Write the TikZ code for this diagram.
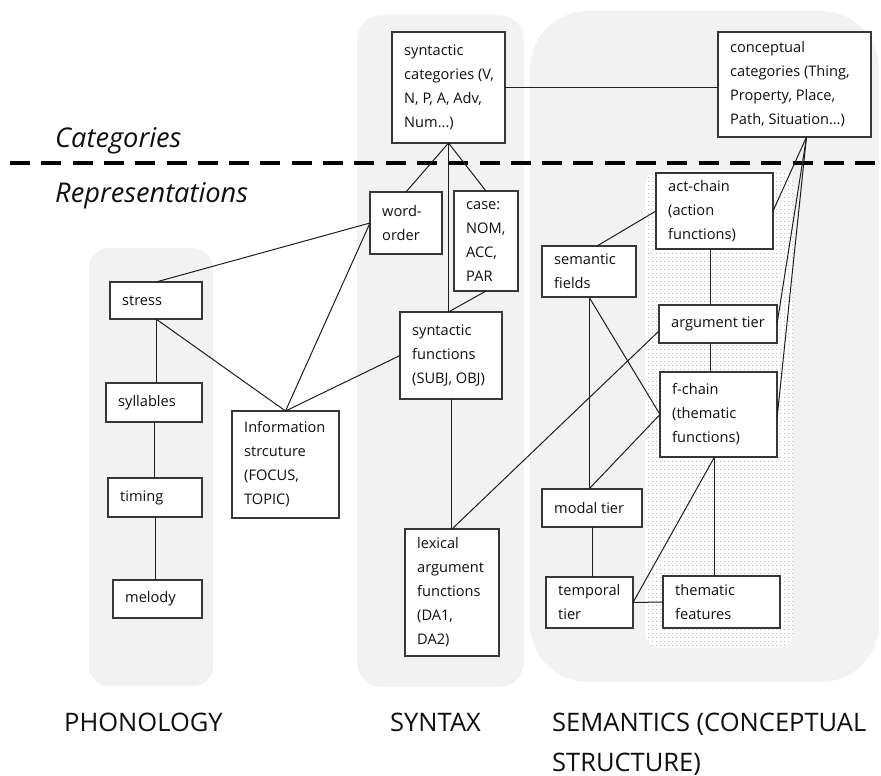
\documentclass[tikz,border=0pt]{standalone}
\usepackage{fontspec}
\setmainfont{Open Sans}
\usetikzlibrary{patterns.meta}

\definecolor{panelgray}{RGB}{242,242,242}
\definecolor{boxline}{RGB}{55,55,55}
\definecolor{linkline}{RGB}{30,30,30}
\definecolor{dotgray}{RGB}{170,170,170}
\definecolor{inktext}{RGB}{15,15,15}

% fine grid of grey dots for the inner conceptual area
\tikzdeclarepattern{
  name=finedots,
  type=uncolored,
  bounding box={(0pt,0pt) and (3.7pt,3.7pt)},
  tile size={(3.7pt,3.7pt)},
  code={\fill (1.85pt,1.85pt) circle (0.55pt);}
}

\tikzset{
  panel/.style={fill=panelgray, draw=none},
  cbx/.style={draw=boxline, line width=1.3pt, fill=white, inner sep=0pt, outer sep=0pt},
  ctext/.style={inner sep=0pt, align=left, text=inktext, font=\fontsize{14.6}{24}\selectfont},
  link/.style={draw=linkline, line width=1pt},
  heading/.style={inner sep=0pt, anchor=base west, text=inktext, font=\fontsize{27.2}{32}\selectfont\itshape},
  module/.style={inner sep=0pt, anchor=base west, text=inktext, font=\fontsize{25.5}{30}\selectfont},
  divider/.style={line width=4.5pt, dash pattern=on 20pt off 11.3pt},
}

% name, x1, y1, x2, y2, text
\newcommand\conceptbox[6]{%
  \node[cbx, minimum width={#4-#2}, minimum height={#5-#3}] (#1) at ({(#2+#4)/2},{(#3+#5)/2}) {};
  \node[ctext, anchor=west] (#1-t) at ([xshift=12pt]#1.west) {#6};
}

\begin{document}
\begin{tikzpicture}[x=1pt, y=-1pt]
\useasboundingbox (0,0) rectangle (881,776);

% module panels
\fill[panel, rounded corners=20pt] (89,248) rectangle (213,686);
\fill[panel, rounded corners=25pt] (357,15) rectangle (524,687);
\fill[panel, rounded corners=58pt] (530,11) rectangle (879,682);

% dotted inner area
\fill[white, rounded corners=15pt] (645,170) rectangle (793,648);
\fill[pattern=finedots, pattern color=dotgray, rounded corners=15pt] (645,170) rectangle (793,648);

% categories / representations divider
\draw[divider] (10,163) -- (881,163);
\node[heading] (hcat) at (55,147) {Categories};
\node[heading] (hrep) at (55,202) {Representations};

% module names
\node[module] (mphon) at (64,731) {PHONOLOGY};
\node[module] (msyn) at (390,731) {SYNTAX};
\node[module] (msem1) at (552,731) {SEMANTICS (CONCEPTUAL};
\node[module] (msem2) at (552,771) {STRUCTURE)};

% boxes
\conceptbox{syncat}{392}{32}{505}{143}{syntactic\\categories (V,\\N, P, A, Adv,\\Num...)}
\conceptbox{concat}{718}{32}{871}{137}{conceptual\\categories (Thing,\\Property, Place,\\Path, Situation…)}
\conceptbox{wordorder}{370}{192}{442}{254}{word-\\order}
\conceptbox{casebox}{454}{191}{518}{291}{case:\\NOM,\\ACC,\\PAR}
\conceptbox{synfun}{400}{312}{502}{399}{syntactic\\functions\\(SUBJ, OBJ)}
\conceptbox{lexarg}{405}{529}{499}{656}{lexical\\argument\\functions\\(DA1,\\DA2)}
\conceptbox{stress}{110}{282}{202}{319}{stress}
\conceptbox{syllables}{106}{383}{202}{422}{syllables}
\conceptbox{timing}{108}{478}{202}{517}{timing}
\conceptbox{melody}{113}{580}{202}{618}{melody}
\conceptbox{info}{232}{411}{339}{518}{Information\\strcuture\\(FOCUS,\\TOPIC)}
\conceptbox{actchain}{656}{173}{773}{249}{act-chain\\(action\\functions)}
\conceptbox{semfields}{542}{246}{636}{297}{semantic\\fields}
\conceptbox{argtier}{659}{305}{777}{343}{argument tier}
\conceptbox{fchain}{660}{372}{777}{457}{f-chain\\(thematic\\functions)}
\conceptbox{modal}{542}{489}{642}{527}{modal tier}
\conceptbox{temporal}{546}{577}{633}{628}{temporal\\tier}
\conceptbox{thfeat}{663}{576}{780}{628}{thematic\\features}

% syntax links
\draw[link] (syncat.east) -- (syncat.east -| concat.west);
\draw[link] (syncat.south) -- (wordorder.north);
\draw[link] (syncat.south) -- (syncat.south |- synfun.north);
\draw[link] (syncat.south) -- (casebox.north);
\draw[link] (casebox.south) -- (syncat.south |- synfun.north);
\draw[link] (synfun.south) -- (synfun.south |- lexarg.north);

% phonology and information structure links
\draw[link] (wordorder.west) -- (stress.north);
\draw[link] (wordorder.west) -- (info.north);
\draw[link] (stress.south) -- (info.north);
\draw[link] (info.north) -- (synfun.west);
\draw[link] (stress.south) -- (stress.south |- syllables.north);
\draw[link] (syllables.south) -- (syllables.south |- timing.north);
\draw[link] (timing.south) -- (timing.south |- melody.north);

% interface and semantics links
\draw[link] (lexarg.north) -- ([yshift=-7pt]argtier.west);
\draw[link] ([xshift=12pt]concat.south) -- (actchain.east);
\draw[link] ([xshift=12pt]concat.south) -- (argtier.east);
\draw[link] ([xshift=12pt]concat.south) -- ([yshift=-4pt]fchain.east);
\draw[link] ([xshift=8pt]semfields.north) -- (actchain.west);
\draw[link] ([xshift=-4pt]actchain.south) -- ([xshift=-4pt]actchain.south |- argtier.north);
\draw[link] ([xshift=-4pt]actchain.south |- argtier.south) -- ([xshift=-4pt]actchain.south |- fchain.north);
\draw[link] (semfields.south) -- (semfields.south |- modal.north);
\draw[link] (semfields.south) -- (fchain.west);
\draw[link] (semfields.south |- modal.north) -- (fchain.west);
\draw[link] (modal.south) -- (modal.south |- temporal.north);
\draw[link] ([xshift=-4pt]fchain.south) -- (temporal.east);
\draw[link] ([xshift=-4pt]fchain.south) -- ([xshift=-4pt]fchain.south |- thfeat.north);
\draw[link] (temporal.east) -- (thfeat.west);
\end{tikzpicture}
\end{document}
